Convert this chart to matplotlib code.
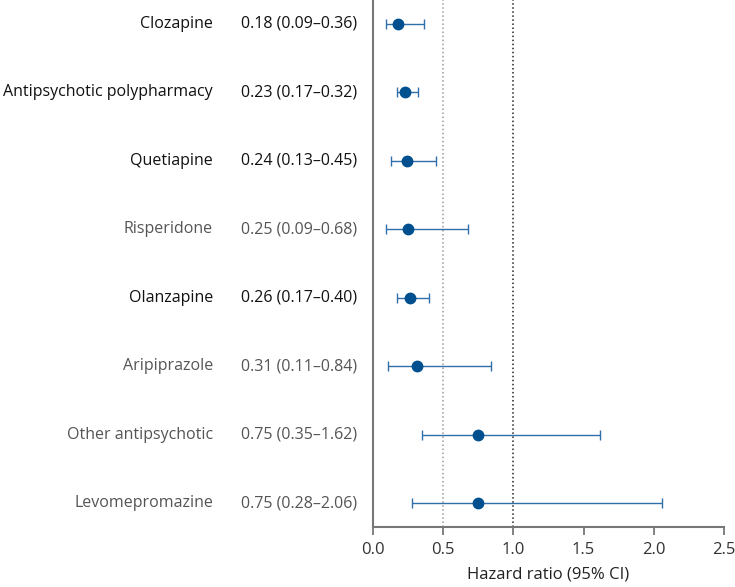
import matplotlib.pyplot as plt

plt.rcParams['font.family'] = ['Open Sans', 'DejaVu Sans']

# forest plot data, top to bottom
drugs = ['Clozapine', 'Antipsychotic polypharmacy', 'Quetiapine', 'Risperidone',
         'Olanzapine', 'Aripiprazole', 'Other antipsychotic', 'Levomepromazine']
hr = [0.18, 0.23, 0.24, 0.25, 0.26, 0.31, 0.75, 0.75]
lo = [0.09, 0.17, 0.13, 0.09, 0.17, 0.11, 0.35, 0.28]
hi = [0.36, 0.32, 0.45, 0.68, 0.40, 0.84, 1.62, 2.06]
significant = [True, True, True, False, True, False, False, False]

fig = plt.figure(figsize=(7.35, 5.87), dpi=100)
ax = fig.add_axes([373 / 735, 60 / 587, 351 / 735, 527 / 587])

ypos = list(range(len(drugs)))
err_lo = [h - l for h, l in zip(hr, lo)]
err_hi = [u - h for h, u in zip(hr, hi)]

ax.axvline(0.5, color='#999999', ls=':', lw=1.1, zorder=1)
ax.axvline(1.0, color='#222222', ls=':', lw=1.1, zorder=1)

ax.errorbar(hr, ypos, xerr=[err_lo, err_hi], fmt='o', color='#00508f',
            ecolor='#2f70ab', elinewidth=1.0, capsize=3.8, capthick=1.0,
            markersize=7.5, zorder=3)

ax.set_xlim(0, 2.5)
ax.set_ylim(7.35, -0.35)
ax.set_xticks([0, 0.5, 1.0, 1.5, 2.0, 2.5])
ax.set_xticklabels(['0.0', '0.5', '1.0', '1.5', '2.0', '2.5'])
ax.set_yticks([])
ax.set_xlabel('Hazard ratio (95% CI)', fontsize=12, color='#222222', labelpad=6)

for side in ['top', 'right']:
    ax.spines[side].set_visible(False)
for side in ['left', 'bottom']:
    ax.spines[side].set_color('#777777')
    ax.spines[side].set_linewidth(1.5)
ax.tick_params(axis='x', length=6, width=1.3, color='#777777',
               labelsize=12, labelcolor='#333333', pad=5)

# left-hand text columns, placed at each row's height
for i, name in enumerate(drugs):
    col = '#111111' if significant[i] else '#555555'
    y_fig = ax.transData.transform((0, ypos[i]))[1] / fig.bbox.height
    txt = '%.2f (%.2f\u2013%.2f)' % (hr[i], lo[i], hi[i])
    fig.text(213 / 735, y_fig, name, ha='right', va='center', fontsize=11.5,
             color=col)
    fig.text(357 / 735, y_fig, txt, ha='right', va='center', fontsize=11.5,
             color=col)

fig.savefig('out.png', dpi=100)
